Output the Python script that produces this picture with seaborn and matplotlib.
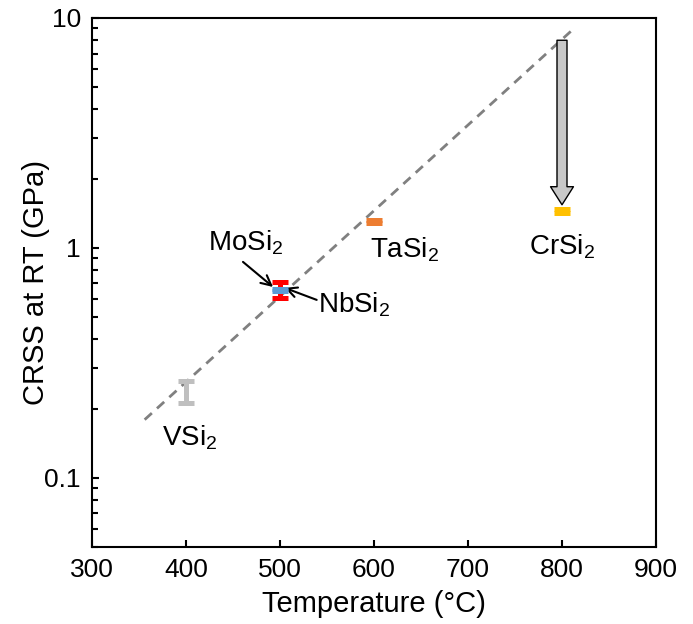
import matplotlib
matplotlib.use("Agg")
import matplotlib.pyplot as plt
import seaborn as sns
import numpy as np
import pandas as pd
from matplotlib.patches import FancyArrowPatch
from matplotlib.ticker import FixedLocator, LogLocator, NullFormatter, FixedFormatter

# -----------------------
# Data
# -----------------------
compounds = ["VSi2", "NbSi2", "MoSi2", "TaSi2", "CrSi2"]
labels = ["VSi$_2$", "NbSi$_2$", "MoSi$_2$", "TaSi$_2$", "CrSi$_2$"]
temperature = [400, 500, 500, 600, 800]
crss_low = [0.212, 0.608, 0.652, 1.28, 1.42]
crss_high = [0.264, 0.710, 0.662, 1.32, 1.47]
colors = ["#bfbfbf", "#ff0000", "#5b9bd5", "#ed7d31", "#ffc000"]

# dashed trend line
trend_temp = [356, 811]
trend_crss = [0.179, 8.87]

# CrSi2 drop arrow
arrow_temp = 800
arrow_start = 8.0
arrow_end = 1.54

data = pd.DataFrame({"compound": compounds, "T": temperature,
                     "low": crss_low, "high": crss_high})
data["mid"] = np.sqrt(data["low"] * data["high"])

# -----------------------
# Style
# -----------------------
sns.set_style("ticks")
plt.rcParams["font.family"] = ["Liberation Sans", "DejaVu Sans"]
plt.rcParams["mathtext.fontset"] = "custom"
plt.rcParams["mathtext.rm"] = "Liberation Sans"
plt.rcParams["mathtext.it"] = "Liberation Sans:italic"
plt.rcParams["text.color"] = "black"
plt.rcParams["axes.labelcolor"] = "black"
plt.rcParams["xtick.color"] = "black"
plt.rcParams["ytick.color"] = "black"

fig = plt.figure(figsize=(6.93, 6.24), dpi=100)
ax = fig.add_axes([0.1328, 0.1234, 0.8138, 0.8478])

# trend line
sns.lineplot(x=trend_temp, y=trend_crss, ax=ax, color="#808080", lw=2,
             dashes=False, zorder=1)
ax.lines[-1].set_dashes((3.5, 2.5))

# error bars
for i, row in data.iterrows():
    ax.errorbar(row["T"], row["mid"],
                yerr=[[row["mid"] - row["low"]], [row["high"] - row["mid"]]],
                fmt="none", ecolor=colors[i], elinewidth=3.6,
                capsize=5.8, capthick=3.6, zorder=3 + i)

# arrow for CrSi2
arr = FancyArrowPatch((arrow_temp, arrow_start), (arrow_temp, arrow_end),
                      arrowstyle="Simple,tail_width=7.2,head_width=16.5,head_length=13",
                      mutation_scale=1, facecolor="#c8c8c8", edgecolor="black",
                      lw=1.0, shrinkA=0, shrinkB=0, zorder=4)
ax.add_patch(arr)

# labels
label_pos = {"VSi2": (374, 0.149), "NbSi2": (540, 0.565), "MoSi2": (423, 1.05),
             "TaSi2": (596, 0.98), "CrSi2": (765, 1.01)}
for name, lab in zip(compounds, labels):
    x, y = label_pos[name]
    ax.text(x, y, lab, fontsize=20, ha="left", va="center", color="black")

ax.annotate("", xy=(492.6, 0.676), xytext=(460.6, 0.869),
            arrowprops=dict(arrowstyle="->", lw=1.5, color="black",
                            mutation_scale=18, shrinkA=0, shrinkB=0))
ax.annotate("", xy=(505, 0.67), xytext=(539, 0.594),
            arrowprops=dict(arrowstyle="->", lw=1.5, color="black",
                            mutation_scale=18, shrinkA=0, shrinkB=0))

# axes
ax.set_yscale("log")
ax.set_xlim(300, 900)
ax.set_ylim(0.05, 10)
ax.set_xticks(range(300, 901, 100))
ax.yaxis.set_major_locator(FixedLocator([0.1, 1, 10]))
ax.yaxis.set_major_formatter(FixedFormatter(["0.1", "1", "10"]))
ax.yaxis.set_minor_locator(LogLocator(base=10, subs=np.arange(2, 10)))
ax.yaxis.set_minor_formatter(NullFormatter())

ax.tick_params(axis="both", which="both", direction="in", width=1.5,
               labelsize=19, pad=8, colors="black")
ax.tick_params(axis="both", which="major", length=5)
ax.tick_params(axis="y", which="minor", length=4)
for s in ax.spines.values():
    s.set_linewidth(1.5)
    s.set_color("black")

ax.set_xlabel("Temperature (°C)", fontsize=21, labelpad=6)
ax.set_ylabel("CRSS at RT (GPa)", fontsize=21, labelpad=-4)

fig.savefig("out.png", dpi=100)
